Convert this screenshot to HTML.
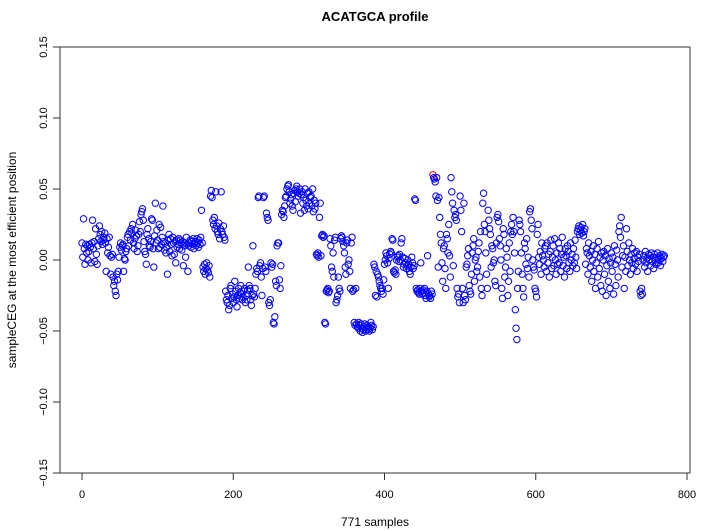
<!DOCTYPE html>
<html><head><meta charset="utf-8"><style>
html,body{margin:0;padding:0;background:#fff;}
svg{display:block;font-family:"Liberation Sans",Arial,sans-serif;}
</style></head><body>
<svg id="chart" width="710" height="530" viewBox="0 0 710 530" xmlns="http://www.w3.org/2000/svg">
<rect width="710" height="530" fill="#fff"/>
<text x="375" y="21" text-anchor="middle" font-size="13" font-weight="bold">ACATGCA profile</text>
<text x="375" y="526" text-anchor="middle" font-size="12">771 samples</text>
<text transform="translate(16,260) rotate(-90)" text-anchor="middle" font-size="12">sampleCEG at the most efficient position</text>
<rect x="60" y="47" width="630" height="426" fill="none" stroke="#333" stroke-width="1"/>
<g id="axes"></g>
<g id="points"></g>
</svg>
<script>
const xTicks = [0, 200, 400, 600, 800];
const yTicks = [-0.15, -0.10, -0.05, 0.00, 0.05, 0.10, 0.15];
const yTickLabels = ["\u22120.15", "\u22120.10", "\u22120.05", "0.00", "0.05", "0.10", "0.15"];
const highlightIndex = 464;
const valuesMilli = [
12,2,29,8,-3,11,5,10,0,6,
11,9,-2,12,28,8,13,-1,22,4,
-3,10,15,24,18,13,20,11,14,16,
19,12,-8,15,5,9,16,3,-10,2,
4,-12,-18,-15,-22,-25,-10,-14,-8,2,
9,12,7,10,11,-8,1,0,6,8,
16,18,10,20,14,22,19,25,12,8,
15,21,17,6,10,18,27,20,32,34,
36,28,13,6,4,-3,18,22,15,10,
9,13,29,28,8,-5,17,40,12,21,
14,8,25,9,23,11,16,38,13,7,
12,5,9,-10,14,18,6,15,11,3,
16,12,4,13,-2,14,9,11,15,8,
14,12,7,13,-4,10,12,2,16,11,
-8,10,12,14,9,13,11,15,8,12,
13,10,15,12,9,14,11,16,35,12,
-5,-8,-3,-10,-6,-2,-7,-9,-4,-12,
45,49,44,28,25,30,22,48,24,20,
18,26,15,22,48,20,18,24,16,14,
-22,-28,-30,-25,-35,-32,-20,-18,-27,-24,
-30,-26,-15,-22,-28,-33,-25,-20,-27,-23,
-18,-24,-28,-26,-22,-20,-30,-25,-28,-21,
-5,-18,-20,-28,-32,-25,10,-24,-26,-20,
-10,-6,-8,44,45,-4,-2,-12,-25,-6,
44,45,-5,-8,33,30,28,-30,-32,-28,
-2,-5,-3,-44,-45,-40,-15,-18,10,12,
12,-14,-20,-4,32,35,34,30,38,44,
45,50,52,53,48,40,43,46,38,35,
47,49,41,50,52,48,45,47,50,33,
46,48,40,44,35,50,42,38,47,36,
48,40,44,45,38,50,34,42,36,40,
4,3,5,2,30,40,3,17,18,16,
17,-44,-45,-22,-21,-20,-23,-22,15,10,
-5,-8,5,-12,14,16,-30,-28,-25,-12,
-20,-22,15,17,16,13,10,5,-5,-10,
12,14,-3,0,-8,-20,12,16,-22,-21,
-44,-46,-20,-45,-47,-48,-44,-46,-50,-45,
-48,-51,-49,-47,-45,-50,-48,-46,-49,-47,
-50,-48,-44,-46,-49,-47,-3,-5,-25,-8,
-26,-10,-12,-15,-18,-20,-22,-20,-24,-14,
-3,0,5,3,-2,-20,1,4,6,5,
15,14,-8,-9,-7,-10,0,2,3,-1,
4,0,12,15,2,-5,-3,1,-2,-6,
-4,0,-3,-8,-10,-5,2,-2,-6,-4,
43,42,-20,-22,-21,-23,-24,-20,-2,-22,
-24,-21,-23,-20,-25,-27,-22,3,-24,-26,
-25,-27,-22,-24,60,58,57,55,45,58,
42,-5,44,30,18,12,-2,-15,8,10,
-6,-20,18,15,5,25,3,-12,58,48,
40,-4,35,30,32,28,-20,-26,-24,-30,
45,35,20,-20,-30,40,-25,-28,-5,-3,
3,8,-18,-22,-24,-10,5,10,15,-15,
0,2,-8,-5,6,12,-12,20,-20,-25,
40,47,25,20,5,-10,-20,35,28,22,
18,-5,10,8,-2,0,-15,-18,12,30,
32,27,15,10,0,-20,-27,22,18,-12,
-5,8,2,-25,-15,12,-8,20,25,18,
30,20,5,-35,-48,-56,-20,-8,28,25,
20,5,-10,-20,-26,12,8,-3,15,-6,
2,-12,34,36,28,22,0,-5,-7,-20,
-22,-26,18,25,2,-3,6,-10,12,3,
0,-5,8,10,-8,12,-2,4,-12,6,
14,-6,2,10,-4,15,0,-10,5,-3,
12,-2,8,-8,4,16,-4,2,-12,8,
3,-6,10,6,-2,-8,12,0,4,-4,
8,-2,14,2,-6,20,22,24,18,21,
23,19,25,17,20,22,-3,8,5,-10,
12,3,-5,6,-15,0,10,-8,4,-20,
-2,8,-12,13,-6,2,-18,5,-22,0,
6,-10,3,-25,-4,8,-15,1,-20,-2,
5,-8,2,-24,10,-3,-18,7,0,-12,
20,24,16,30,-5,3,10,-20,2,-8,
22,6,-4,12,0,-10,4,-2,8,-6,
1,5,-3,6,-8,2,-1,4,-22,-25,
-20,-24,0,3,-5,6,-2,1,-8,4,
0,3,-4,5,-1,2,-6,4,0,-3,
2,5,-2,0,3,-4,1,4,-1,2,
3
];
const values = valuesMilli.map(v => v / 1000);

const NS = "http://www.w3.org/2000/svg";
const xScale = v => 82 + v * (605 / 800);
const yScale = v => 260 - v * 1420;

const axes = document.getElementById('axes');
xTicks.forEach(t => {
  const x = xScale(t);
  const ln = document.createElementNS(NS, 'line');
  ln.setAttribute('x1', x); ln.setAttribute('x2', x);
  ln.setAttribute('y1', 473); ln.setAttribute('y2', 480);
  ln.setAttribute('stroke', '#333');
  
  
  axes.appendChild(ln);
  const tx = document.createElementNS(NS, 'text');
  tx.setAttribute('x', x); tx.setAttribute('y', 498);
  tx.setAttribute('text-anchor', 'middle');
  tx.setAttribute('font-size', '11');
  tx.textContent = t;
  
  
  axes.appendChild(tx);
});
yTicks.forEach((t, i) => {
  const y = yScale(t);
  const ln = document.createElementNS(NS, 'line');
  ln.setAttribute('x1', 53); ln.setAttribute('x2', 60);
  ln.setAttribute('y1', y); ln.setAttribute('y2', y);
  ln.setAttribute('stroke', '#333');
  
  
  axes.appendChild(ln);
  const tx = document.createElementNS(NS, 'text');
  tx.setAttribute('transform', 'translate(47,' + y + ') rotate(-90)');
  tx.setAttribute('text-anchor', 'middle');
  tx.setAttribute('font-size', '11');
  tx.textContent = yTickLabels[i];
  
  
  axes.appendChild(tx);
});

const pts = document.getElementById('points');
values.forEach((v, i) => {
  const c = document.createElementNS(NS, 'circle');
  c.setAttribute('cx', xScale(i));
  c.setAttribute('cy', yScale(v));
  c.setAttribute('r', 3.2);
  c.setAttribute('fill', 'none');
  c.setAttribute('stroke', i === highlightIndex ? '#ff0000' : '#0000ff');
  c.setAttribute('stroke-width', '1');
  
  
  pts.appendChild(c);
});
</script>
</body></html>
